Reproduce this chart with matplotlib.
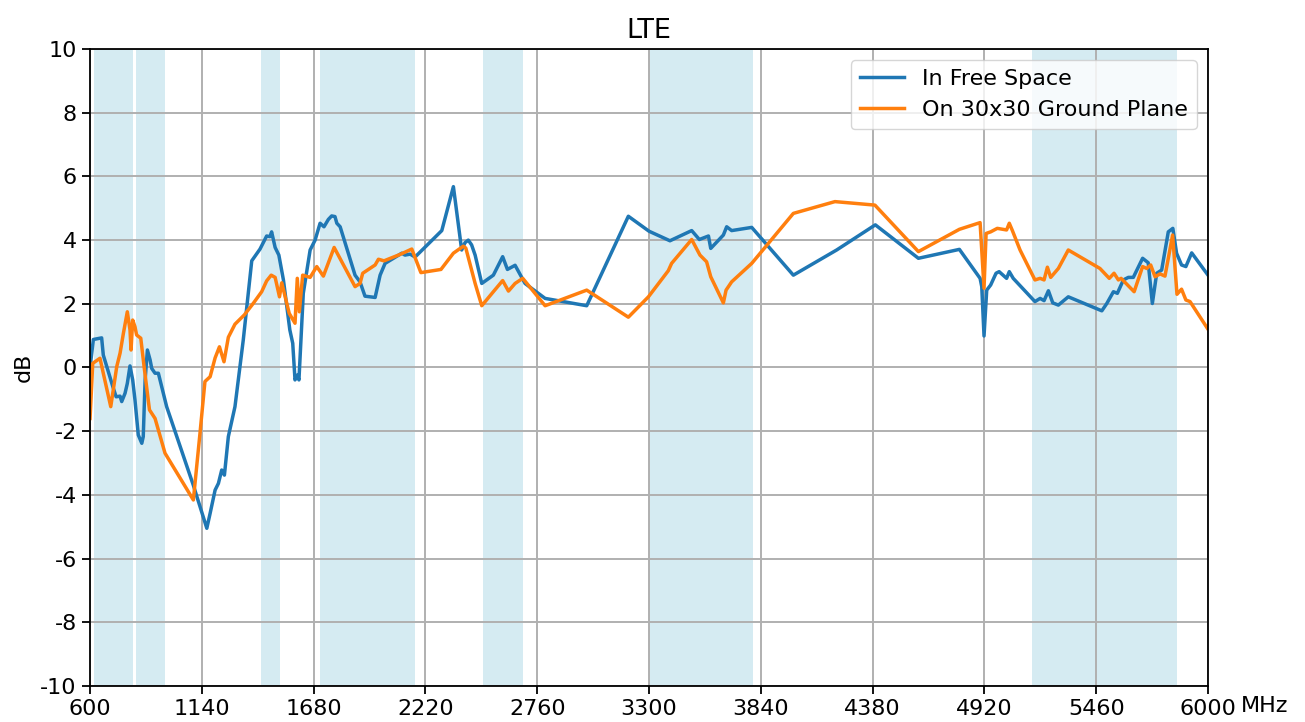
import matplotlib
matplotlib.use("Agg")
import matplotlib.pyplot as plt

plt.rcParams['axes.unicode_minus'] = False
plt.rcParams['font.family'] = ['DejaVu Sans']

# LTE bands (MHz) shaded
band_starts = [617, 824, 1427, 1710, 2496, 3300, 5150]
band_ends = [806, 960, 1518, 2170, 2690, 3800, 5850]

free_f = [600, 616, 656, 664, 710, 726, 745, 753, 769, 780,
          793, 806, 817, 833, 850, 857, 866, 877, 890, 898,
          914, 930, 954, 970, 1099, 1164, 1180, 1204, 1220, 1236,
          1249, 1268, 1300, 1340, 1381, 1421, 1453, 1469, 1477, 1494,
          1512, 1534, 1565, 1579, 1590, 1601, 1609, 1630, 1663, 1687,
          1711, 1730, 1751, 1767, 1783, 1792, 1808, 1880, 1904, 1928,
          1977, 2001, 2025, 2065, 2106, 2121, 2146, 2170, 2299, 2355,
          2395, 2411, 2427, 2443, 2460, 2492, 2548, 2593, 2616, 2653,
          2701, 2798, 2999, 3200, 3300, 3401, 3506, 3543, 3587, 3598,
          3659, 3675, 3699, 3796, 3997, 4206, 4393, 4601, 4799, 4899,
          4907, 4918, 4931, 4950, 4976, 4991, 5027, 5040, 5059, 5164,
          5189, 5208, 5229, 5250, 5277, 5325, 5487, 5511, 5543, 5562,
          5591, 5615, 5639, 5684, 5711, 5731, 5752, 5776, 5808, 5830,
          5848, 5872, 5893, 5921, 6000]
free_db = [0.0, 0.88, 0.93, 0.39, -0.6, -0.92, -0.9, -1.07, -0.81, -0.5,
           0.05, -0.39, -1.02, -2.12, -2.38, -2.17, -0.39, 0.55, 0.24, -0.03,
           -0.18, -0.18, -0.81, -1.23, -3.7, -5.05, -4.58, -3.85, -3.64, -3.22,
           -3.38, -2.17, -1.23, 0.86, 3.35, 3.72, 4.13, 4.11, 4.26, 3.77,
           3.53, 2.75, 1.18, 0.76, -0.39, -0.24, -0.39, 2.33, 3.69, 4.0,
           4.53, 4.42, 4.65, 4.76, 4.74, 4.53, 4.42, 2.9, 2.69, 2.24,
           2.2, 2.9, 3.27, 3.43, 3.59, 3.53, 3.56, 3.47, 4.3, 5.68,
           3.69, 3.92, 4.0, 3.85, 3.53, 2.64, 2.9, 3.48, 3.08, 3.21,
           2.64, 2.17, 1.94, 4.75, 4.28, 3.98, 4.3, 4.02, 4.13, 3.74,
           4.16, 4.42, 4.3, 4.4, 2.9, 3.69, 4.48, 3.43, 3.71, 2.8,
           2.54, 0.99, 2.43, 2.59, 2.96, 3.01, 2.8, 3.01, 2.8, 2.07,
           2.17, 2.1, 2.41, 2.03, 1.96, 2.22, 1.78, 2.01, 2.38, 2.33,
           2.75, 2.83, 2.83, 3.43, 3.29, 2.01, 2.96, 3.06, 4.26, 4.37,
           3.59, 3.22, 3.17, 3.6, 2.9]

gp_f = [600, 613, 648, 664, 700, 729, 745, 761, 780, 793,
        798, 806, 817, 825, 845, 861, 887, 914, 962, 1099,
        1131, 1155, 1180, 1204, 1225, 1247, 1268, 1300, 1345, 1389,
        1429, 1453, 1475, 1494, 1515, 1526, 1562, 1590, 1601, 1611,
        1627, 1663, 1695, 1727, 1779, 1880, 1904, 1917, 1977, 1993,
        2020, 2097, 2154, 2198, 2295, 2355, 2403, 2415, 2460, 2492,
        2548, 2593, 2621, 2653, 2690, 2798, 2999, 3200, 3297, 3393,
        3409, 3506, 3546, 3578, 3598, 3659, 3672, 3699, 3796, 3997,
        4198, 4391, 4601, 4799, 4899, 4918, 4928, 4950, 4982, 5027,
        5040, 5055, 5092, 5164, 5189, 5208, 5224, 5240, 5277, 5325,
        5478, 5523, 5546, 5567, 5580, 5643, 5684, 5704, 5723, 5744,
        5768, 5792, 5829, 5850, 5872, 5893, 5913, 6000]
gp_db = [-1.6, 0.13, 0.29, -0.18, -1.23, 0.03, 0.45, 1.07, 1.75, 1.18,
         0.55, 1.49, 1.28, 1.02, 0.92, 0.03, -1.33, -1.6, -2.69, -4.16,
         -2.07, -0.44, -0.29, 0.3, 0.65, 0.18, 0.95, 1.36, 1.65, 2.02,
         2.38, 2.72, 2.9, 2.83, 2.22, 2.66, 1.7, 1.39, 2.8, 1.75,
         2.9, 2.83, 3.17, 2.87, 3.77, 2.54, 2.64, 2.96, 3.22, 3.4,
         3.35, 3.55, 3.72, 2.98, 3.08, 3.59, 3.81, 3.75, 2.64, 1.94,
         2.38, 2.73, 2.4, 2.64, 2.8, 1.94, 2.43, 1.58, 2.22, 3.04,
         3.27, 4.02, 3.53, 3.32, 2.85, 2.03, 2.43, 2.69, 3.27, 4.84,
         5.21, 5.1, 3.64, 4.34, 4.55, 2.49, 4.21, 4.26, 4.37, 4.32,
         4.53, 4.3, 3.69, 2.75, 2.8, 2.75, 3.15, 2.83, 3.11, 3.69,
         3.11, 2.8, 2.96, 2.75, 2.8, 2.38, 3.17, 3.11, 3.22, 2.85,
         2.94, 2.87, 4.16, 2.3, 2.46, 2.12, 2.07, 1.2]

x_ticks = [600, 1140, 1680, 2220, 2760, 3300, 3840, 4380, 4920, 5460, 6000]
y_ticks = [-10, -8, -6, -4, -2, 0, 2, 4, 6, 8, 10]

fig = plt.figure(figsize=(13.05, 7.22), dpi=100)
ax = fig.add_axes([0.069, 0.050, 0.8567, 0.882])

for s, e in zip(band_starts, band_ends):
    ax.axvspan(s, e, color='lightblue', alpha=0.5, lw=0)

ax.plot(free_f, free_db, color='#1f77b4', lw=2.5, label='In Free Space')
ax.plot(gp_f, gp_db, color='#ff7f0e', lw=2.5, label='On 30x30 Ground Plane')

ax.set_xlim(600, 6000)
ax.set_ylim(-10, 10)
ax.set_xticks(x_ticks)
ax.set_yticks(y_ticks)
ax.set_xticklabels([str(t) for t in x_ticks])
ax.set_yticklabels([str(t) for t in y_ticks])
ax.tick_params(labelsize=16, length=6, width=1.3, pad=3.5)
ax.grid(True, color='#b0b0b0', lw=1.4)
for sp in ax.spines.values():
    sp.set_linewidth(1.3)

ax.set_title('LTE', fontsize=19.5, pad=8)
ax.set_ylabel('dB', fontsize=16, labelpad=5)
ax.annotate('MHz', xy=(1.0, 0.0), xycoords='axes fraction',
            xytext=(24, -7), textcoords='offset points',
            ha='left', va='top', fontsize=16)

leg = ax.legend(loc='upper right', fontsize=16, handlelength=2.0)
leg.get_frame().set_linewidth(1.0)

fig.savefig('out.png', dpi=100)
